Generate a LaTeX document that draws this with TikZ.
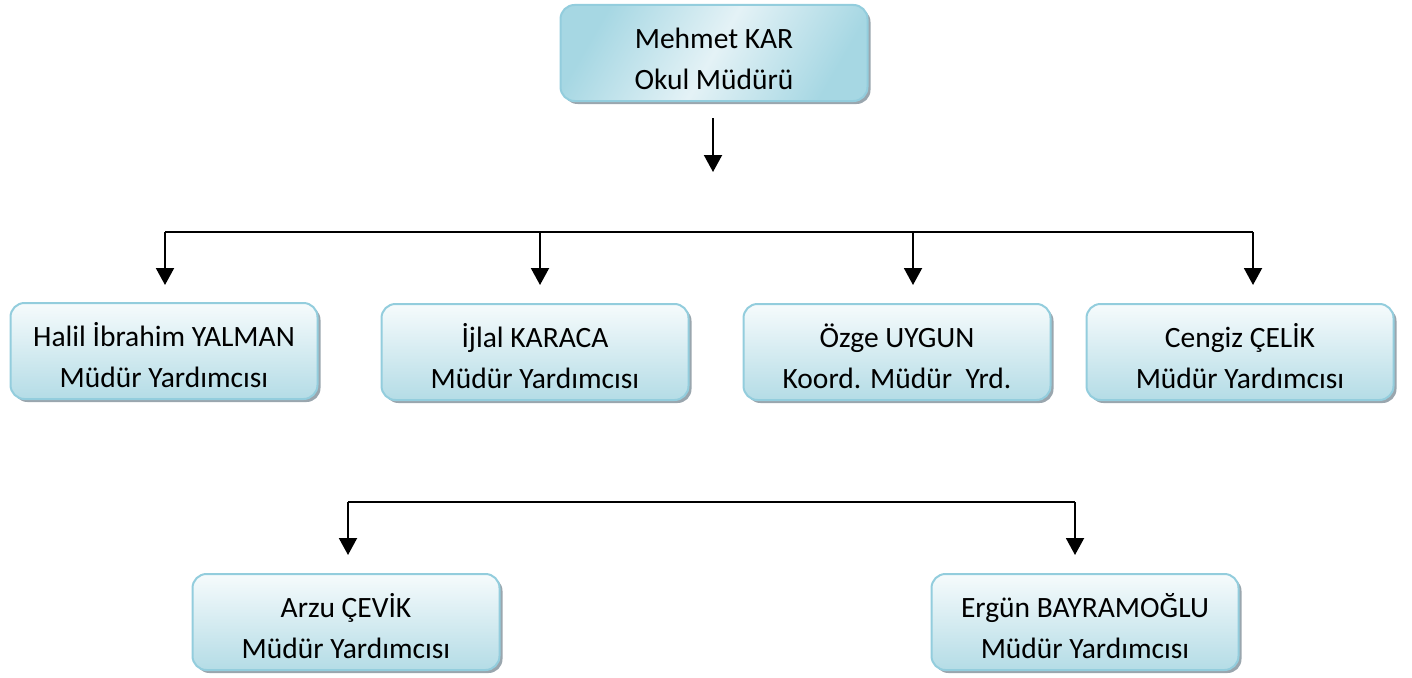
\documentclass[tikz,border=0pt]{standalone}
\usepackage{fontspec}
\setmainfont{Carlito}
\usetikzlibrary{arrows.meta,shadows}
\definecolor{boxedge}{HTML}{93CDDD}
\definecolor{boxtop}{HTML}{F6FBFC}
\definecolor{boxbot}{HTML}{B4DCE6}
\definecolor{headdark}{HTML}{A6D7E3}
\definecolor{headlight}{HTML}{E4F2F6}
\definecolor{shadowc}{HTML}{9AA6AE}
\newcommand{\firstlinestrut}{\rule{0pt}{33pt}}
\tikzset{
  orgbox/.style={rounded corners=14pt, draw=boxedge, line width=2pt,
    top color=boxtop, bottom color=boxbot,
    minimum width=307pt, minimum height=96pt, inner sep=0pt,
    align=center, font=\fontsize{29.5}{41}\selectfont,
    drop shadow={shadow xshift=3pt, shadow yshift=-3pt, fill=shadowc, opacity=1}},
  headbox/.style={orgbox, shading=axis, left color=headdark, right color=headdark,
    middle color=headlight, shading angle=60},
  conn/.style={line width=2pt, black},
  arr/.style={conn, -{Triangle[width=18pt,length=17pt]}}
}
\begin{document}
\begin{tikzpicture}[x=1pt,y=-1pt]
\useasboundingbox (0,0) rectangle (1412,677);
% boxes
\node[headbox] (top) at (714,53) {\firstlinestrut Mehmet KAR\\Okul Müdürü};
\node[orgbox] (b1) at (164,351) {\firstlinestrut Halil İbrahim YALMAN\\Müdür Yardımcısı};
\node[orgbox] (b2) at (535,352) {\firstlinestrut İjlal KARACA\\Müdür Yardımcısı};
\node[orgbox] (b3) at (897,352) {\firstlinestrut Özge UYGUN\\Koord. Müdür~ Yrd.};
\node[orgbox] (b4) at (1240,352) {\firstlinestrut Cengiz ÇELİK\\Müdür Yardımcısı};
\node[orgbox] (c1) at (346,622) {\firstlinestrut Arzu ÇEVİK\\Müdür Yardımcısı};
\node[orgbox] (c2) at (1085,622) {\firstlinestrut Ergün BAYRAMOĞLU\\Müdür Yardımcısı};
% connector coordinates
\coordinate (t0) at (713,118);
\coordinate (t1) at (713,172);
\coordinate (h1) at (165,232);
\coordinate (h2) at (540,232);
\coordinate (h3) at (913,232);
\coordinate (h4) at (1253,232);
\coordinate (a1) at (165,285);
\coordinate (a2) at (540,285);
\coordinate (a3) at (913,285);
\coordinate (a4) at (1253,285);
\coordinate (k1) at (348,502);
\coordinate (k2) at (1075,502);
\coordinate (d1) at (348,555);
\coordinate (d2) at (1075,555);
% connectors
\draw[arr] (t0) -- (t1);
\draw[conn] (h1) -- (h4);
\draw[arr] (h1) -- (a1);
\draw[arr] (h2) -- (a2);
\draw[arr] (h3) -- (a3);
\draw[arr] (h4) -- (a4);
\draw[conn] (k1) -- (k2);
\draw[arr] (k1) -- (d1);
\draw[arr] (k2) -- (d2);
\end{tikzpicture}
\end{document}
